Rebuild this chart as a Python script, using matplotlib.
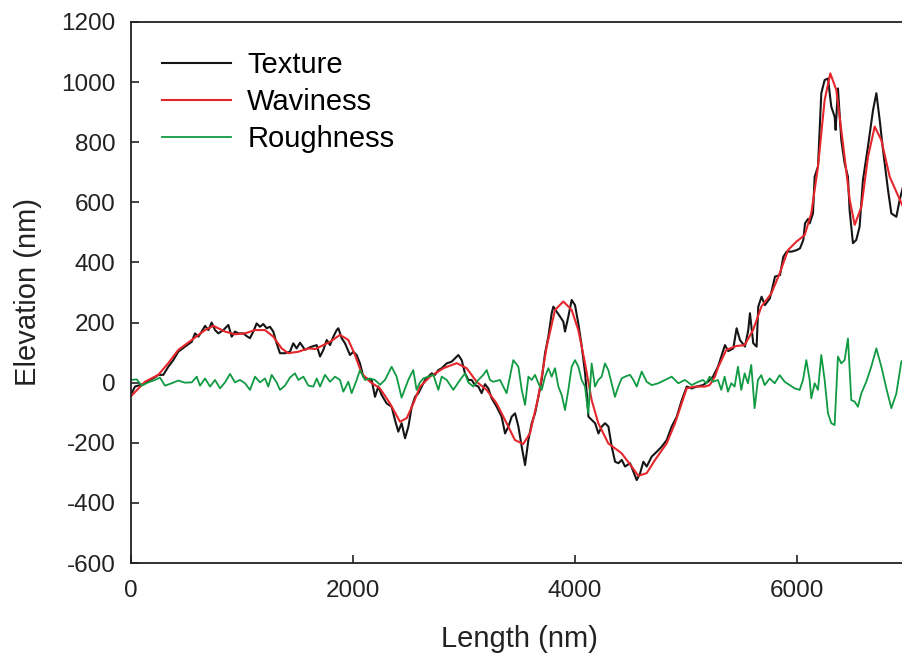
import numpy as np
import matplotlib
matplotlib.use("Agg")
from matplotlib import pyplot as plt

# Texture profile (black)
texture_x = [6, 36, 81, 126, 171, 216, 246, 291, 336, 381, 426, 487, 547, 577, 607, 637, 667, 697,
             727, 757, 787, 832, 862, 877, 907, 937, 967, 1012, 1042, 1072, 1102, 1132, 1162, 1192,
             1222, 1252, 1282, 1312, 1342, 1387, 1432, 1462, 1492, 1523, 1568, 1613, 1673,
             1703, 1733, 1763, 1793, 1823, 1853, 1868, 1898, 1928, 1973, 2003, 2033, 2063, 2093,
             2123, 2168, 2198, 2228, 2258, 2303, 2348, 2378, 2408, 2438, 2469, 2499, 2529, 2559,
             2589, 2619, 2649, 2679, 2709, 2739, 2769, 2799, 2844, 2889, 2919, 2949, 2979, 3009,
             3039, 3069, 3099, 3129, 3159, 3189, 3219, 3249, 3294, 3339, 3370, 3400, 3430,
             3460, 3490, 3520, 3550, 3580, 3610, 3640, 3670, 3700, 3730, 3760, 3790, 3805, 3835,
             3865, 3895, 3910, 3940, 3970, 4000, 4030, 4061, 4091, 4106, 4121, 4151, 4181, 4211,
             4241, 4271, 4301, 4331, 4361, 4391, 4421, 4451, 4496, 4526, 4556, 4586, 4616, 4646,
             4691, 4736, 4781, 4826, 4871, 4917, 4962, 5007, 5052, 5097,
             5153, 5198, 5243, 5288, 5320, 5351, 5381, 5426, 5456, 5486, 5531, 5561, 5576, 5606,
             5636, 5651, 5681, 5711, 5756, 5802, 5847, 5877, 5907, 5952, 5997, 6027, 6057, 6072,
             6100, 6114, 6144, 6159, 6189, 6219, 6249, 6279, 6309, 6339, 6348, 6369, 6399, 6429,
             6459, 6474, 6504, 6534, 6564, 6594, 6639, 6685, 6715, 6745, 6775, 6820, 6850, 6895,
             6925, 6955]
texture_y = [-35, -13, -8, -2, 9, 18, 26, 26, 53, 75, 103, 120, 136, 164, 153, 170, 189, 175,
             200, 175, 164, 175, 186, 192, 153, 170, 164, 164, 155, 148, 170, 197, 186, 195,
             181, 186, 170, 131, 98, 98, 103, 131, 114, 133, 109, 118, 125,
             87, 109, 142, 125, 153, 175, 181, 148, 131, 92, 103, 92, 64, 20,
             14, 9, -47, -13, -41, -69, -80, -124, -163, -135, -185, -146, -80, -47,
             -35, -13, 9, 20, 31, 26, 42, 48, 64, 70, 81, 92, 75, 31,
             9, 9, -8, -13, -35, -5, -19, -52, -80, -113, -169, -146, -113,
             -102, -146, -213, -274, -191, -135, -102, -47, 9, 98, 153, 231, 253, 236,
             220, 203, 170, 220, 275, 258, 197, 120, 31, -35, -113, -124, -135, -169,
             -146, -135, -146, -213, -263, -268, -257, -279, -268, -296, -324, -302, -263, -279,
             -246, -230, -213, -191, -146, -113, -58, -13, -19, -13,
             -8, 3, 20, 53, 90, 125, 105, 114, 181, 142, 120, 175, 231, 131,
             120, 253, 286, 258, 281, 353, 358, 419, 436, 436, 441, 447, 475, 530,
             545, 530, 563, 685, 719, 963, 1007, 1012, 918, 885, 841, 979, 807, 730,
             685, 574, 464, 475, 519, 674, 785, 907, 963, 874, 774, 641, 563, 552,
             608, 652]

# Waviness (red)
waviness_x = [0, 126, 246, 336, 426, 547, 667, 742, 847, 937, 1027, 1117, 1207, 1282, 1357, 1417,
              1508, 1598, 1660, 1793, 1883, 1958, 2018, 2078, 2153, 2243, 2333, 2423, 2484, 2544,
              2604, 2694, 2814, 2934, 3024, 3114, 3204, 3294, 3384, 3459, 3534, 3595, 3670, 3745,
              3820, 3895, 3970, 4030, 4090, 4150, 4210, 4300, 4420, 4510, 4570, 4646, 4721, 4826,
              4901, 4961, 5006, 5081, 5171, 5213, 5261, 5288, 5363, 5453, 5528, 5604, 5679, 5769,
              5844, 5919, 5994, 6069, 6129, 6189, 6249, 6300, 6354, 6414, 6475, 6520, 6580, 6640,
              6700, 6760, 6835, 6955]
waviness_y = [-45, 3, 26, 65, 109, 142, 175, 189, 170, 161, 164, 175, 175, 153, 114, 98,
              103, 114, 112, 136, 159, 142, 92, 31, 3, -19, -69, -130, -118, -69,
              -13, 20, 48, 65, 48, 3, -24, -69, -135, -191, -204, -168, -47, 120,
              242, 270, 242, 175, 65, -58, -135, -202, -235, -279, -310, -301, -257, -202,
              -135, -69, -19, -13, -13, -8, 20, 50, 109, 122, 125, 175, 253, 297,
              364, 441, 469, 491, 564, 719, 940, 1029, 974, 796, 608, 525, 585, 752,
              852, 807, 685, 585]

# Roughness (green)
roughness_x = [0, 51, 96, 156, 216, 261, 306, 366, 426, 486, 547, 592, 622, 667, 712, 757, 802,
               847, 892, 937, 982, 1027, 1072, 1117, 1162, 1207, 1237, 1267, 1312, 1342, 1387,
               1432, 1477, 1508, 1553, 1598, 1643, 1673,
               1703, 1748, 1793, 1838, 1883, 1913, 1958, 1988, 2033, 2063, 2108, 2153, 2198, 2243,
               2288, 2348, 2393, 2438, 2498, 2543, 2573, 2603, 2633, 2679, 2724, 2769, 2799, 2844,
               2904, 2964, 3009, 3039, 3084, 3129, 3174, 3204, 3234, 3264, 3324, 3384, 3444,
               3490, 3520, 3550, 3580, 3610, 3640, 3670, 3700, 3730, 3760, 3790, 3820, 3850, 3880,
               3910, 3940, 3970, 4000, 4030, 4060, 4090, 4120, 4150, 4180, 4210, 4240, 4270, 4300,
               4330, 4360, 4390, 4420, 4450, 4496, 4526, 4556, 4601, 4646, 4691, 4751, 4811, 4871,
               4931, 4991, 5051, 5111,
               5153, 5183, 5213, 5243, 5288, 5318, 5348, 5378, 5408, 5438, 5468, 5498, 5528, 5558,
               5588, 5618, 5648, 5678, 5709, 5754, 5799, 5844, 5889, 5934, 5979, 6024, 6054, 6084,
               6114, 6129, 6159, 6189, 6219, 6249, 6279, 6309, 6339, 6369, 6399, 6429, 6459, 6489,
               6519, 6549, 6579, 6624, 6669, 6715, 6760, 6805, 6850, 6895, 6940, 6955]
roughness_y = [9, 11, -10, 1, 9, 17, -10, -2, 7, 0, 1, 20, -10, 14, -13, 9, -19,
               1, 29, 1, 9, -2, -24, 20, 1, 14, -13, 26, 1, -24, -10,
               17, 31, 9, 20, -10, -13, 14,
               -13, 26, 3, 20, 9, -30, 3, -35, 9, 42, 9, 14, 9, -7,
               9, 53, 20, -50, 9, 42, -24, 1, 14, 20, 26, -24, 20, 9,
               -24, 9, 31, 1, -13, 9, 26, 42, 9, 3, 9, -35, 75,
               53, -24, -74, 20, 9, 26, -2, -24, 20, 48, 20, 48, -13, -41,
               -91, -24, 53, 75, 53, 9, -13, -102, 64, -13, 9, 20, 64, 42,
               -2, -47, -13, 14, 20, 26, 9, -13, 37, 3, -8, -2, 9, 20,
               -2, 9, -8, 3,
               9, -2, 20, 3, 9, -24, 20, -30, -2, -13, 53, -24, 31, -2,
               59, -85, 9, 25, -8, 14, -2, 25, 3, -8, -19, -24, 9, 75,
               9, -52, -2, -24, 92, 9, -102, -135, -141, 87, 64, 75, 147, -58,
               -63, -80, -36, 3, 53, 114, 53, -19, -85, -36, 70, 75]

x_ticks = [0, 2000, 4000, 6000]
y_ticks = list(range(-600, 1201, 200))

plt.rcParams['font.family'] = ['Liberation Sans', 'DejaVu Sans']
plt.rcParams['axes.unicode_minus'] = False  # plain hyphen like the original

fig = plt.figure(figsize=(9.03, 6.6), dpi=100)
ax = fig.add_axes([131 / 903, 97 / 660, 777 / 903, 541 / 660])

ax.plot(texture_x, texture_y, color='#151515', lw=1.5, label='Texture')
ax.plot(waviness_x, waviness_y, color='#e5262b', lw=1.5, label='Waviness')
ax.plot(roughness_x, roughness_y, color='#109a42', lw=1.3, label='Roughness')

ax.set_xlim(0, 7000)
ax.set_ylim(-600, 1200)
ax.set_xticks(x_ticks)
ax.set_yticks(y_ticks)

for s in ax.spines.values():
    s.set_linewidth(1.3)
    s.set_color('#222222')

ax.tick_params(direction='in', length=6, width=1.2, colors='#222222',
               labelsize=17.5, labelcolor='#222222')
ax.tick_params(axis='y', pad=11)
ax.tick_params(axis='x', pad=12)

ax.set_xlabel('Length (nm)', fontsize=21, color='#222222', labelpad=17)
ax.set_ylabel('Elevation (nm)', fontsize=21, color='#222222', labelpad=14)

ax.legend(loc='upper left', bbox_to_anchor=(0.04, 0.946), frameon=False, fontsize=21,
          handlelength=2.37, handletextpad=0.55, labelspacing=0.3, borderpad=0,
          borderaxespad=0)

fig.savefig('out.png', dpi=100)
